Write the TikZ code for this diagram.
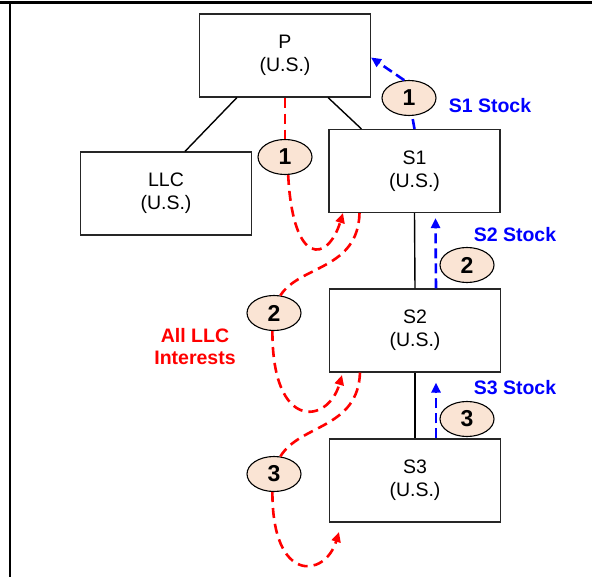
\documentclass[tikz,border=0pt]{standalone}
\usepackage{fontspec}
\setmainfont{Liberation Sans}
\usetikzlibrary{arrows.meta,shapes.geometric}
\definecolor{peach}{RGB}{250,228,212}
\tikzset{
 box/.style={draw=black!85,line width=1.1pt,minimum width=171pt,minimum height=83pt,inner sep=0pt,align=center,font=\fontsize{19.5}{23}\selectfont},
 oval/.style={ellipse,draw=black,line width=1.1pt,fill=peach,minimum width=54pt,minimum height=35pt,inner sep=0pt,font=\bfseries\fontsize{23}{23}\selectfont},
 link/.style={draw=black,line width=1.4pt},
 reddash/.style={draw=red,line width=2.6pt,dash pattern=on 10pt off 6pt},
 bluedash/.style={draw=blue,line width=2.6pt,dash pattern=on 10pt off 5pt},
 arrowed/.style={-{Triangle[length=10pt,width=9pt]}},
 lab/.style={font=\bfseries\fontsize{19.5}{22}\selectfont,align=center}
}
\begin{document}
\begin{tikzpicture}[x=1pt,y=-1pt]
\useasboundingbox (0,0) rectangle (592,577);
\fill[white] (0,0) rectangle (592,577);
\draw[line width=3pt] (0,2.5) -- (592,2.5);
\draw[line width=2pt] (10,2.5) -- (10,577);

% boxes
\node[box] (P)   at (285,55.5)  {P\\(U.S.)};
\node[box] (LLC) at (166,193.5) {LLC\\(U.S.)};
\node[box] (S1)  at (414.5,171) {S1\\(U.S.)};
\node[box] (S2)  at (415,330.5) {S2\\(U.S.)};
\node[box] (S3)  at (415,480.5) {S3\\(U.S.)};

% ownership lines
\draw[link] ([xshift=38pt]P.south west) -- ([xshift=105pt]LLC.north west);
\draw[link] ([xshift=-43pt]P.south east) -- ([xshift=33pt]S1.north west);
\draw[link] (S1.south) -- (S2.north);
\draw[link] (S2.south) -- (S3.north);

% ovals
\node[oval] (e1)  at (285,157) {1};
\node[oval] (e2)  at (274,313) {2};
\node[oval] (e3)  at (274,474) {3};
\node[oval] (e1r) at (409,98)  {1};
\node[oval] (e2r) at (467,265) {2};
\node[oval] (e3r) at (467,419) {3};

% labels
\node[lab,text=blue] (l1) at (490,106) {S1 Stock};
\node[lab,text=blue] (l2) at (515,235) {S2 Stock};
\node[lab,text=blue] (l3) at (515,388) {S3 Stock};
\node[lab,text=red]  (l4) at (195,347) {All LLC\\Interests};

% red dashed transfers
\coordinate (t1) at (343,213);
\coordinate (t2) at (342,375);
\coordinate (t3) at (339,532);
\draw[reddash] (P.south) -- (e1.north);
\draw[reddash,arrowed] (e1.-80) .. controls (293,268) and (328,262) .. (t1);
\draw[reddash] ([xshift=-55pt]S1.south) .. controls (358,270) and (300,265) .. (e2.70);
\draw[reddash,arrowed] (e2.-95) .. controls (272,432) and (328,424) .. (t2);
\draw[reddash] ([xshift=-55pt]S2.south) .. controls (358,429) and (300,424) .. (e3.70);
\draw[reddash,arrowed] (e3.-95) .. controls (272,584) and (325,578) .. (t3);

% blue dashed stock transfers
\draw[bluedash] (S1.north) -- (e1r.-80);
\draw[bluedash,arrowed] (e1r.105) -- ([yshift=-2pt]P.east);
\draw[bluedash,arrowed] ([xshift=21pt]S2.north) -- ([xshift=21pt,yshift=-5pt]S1.south);
\draw[bluedash,arrowed] ([xshift=21pt]S3.north) -- ([xshift=21pt,yshift=-10pt]S2.south);
\end{tikzpicture}
\end{document}
